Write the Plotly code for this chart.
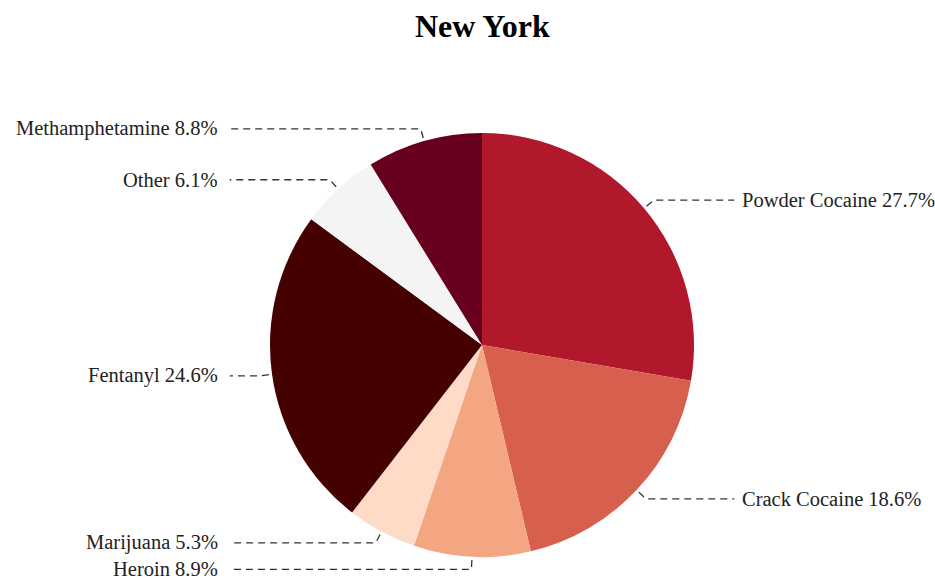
import math
import plotly.graph_objects as go

title = "New York"
categories = ["Powder Cocaine", "Crack Cocaine", "Heroin", "Marijuana",
              "Fentanyl", "Other", "Methamphetamine"]
values = [27.7, 18.6, 8.9, 5.3, 24.6, 6.1, 8.8]
colors = ["#b2182b", "#d6604d", "#f4a582", "#fddbc7",
          "#450000", "#f4f4f4", "#67001f"]

W, H = 935, 584
CX, CY, R = 482, 345, 212  # pie centre / radius in pixels


def px(x):
    return x / W


def py(y):
    return 1 - y / H


fig = go.Figure(go.Pie(
    labels=categories, values=values, sort=False, direction="clockwise",
    rotation=0, marker=dict(colors=colors, line=dict(width=0)),
    textinfo="none", hoverinfo="label+percent",
    domain=dict(x=[px(CX - R), px(CX + R)], y=[py(CY + R), py(CY - R)]),
    showlegend=False,
))

total = sum(values)
shapes, annotations = [], []
cum = 0.0
for name, v in zip(categories, values):
    mid = (cum + v / 2) / total * 2 * math.pi
    cum += v
    s, c = math.sin(mid), -math.cos(mid)
    x1, y1 = CX + 1.015 * R * s, CY + 1.015 * R * c
    x2, y2 = CX + 1.06 * R * s, CY + 1.06 * R * c
    right = s > 0
    x3 = CX + (1.19 if right else -1.19) * R
    xt = CX + (1.215 if right else -1.235) * R
    shapes.append(dict(
        type="path", xref="paper", yref="paper",
        path=f"M {px(x1)} {py(y1)} L {px(x2)} {py(y2)} L {px(x3)} {py(y2)}",
        line=dict(color="#333", width=1.3, dash="7px,5px"),
    ))
    annotations.append(dict(
        x=px(xt), y=py(y2), xref="paper", yref="paper",
        text=f"{name} {v}%", showarrow=False,
        xanchor="left" if right else "right", yanchor="middle",
        font=dict(family="Liberation Serif", size=20.5, color="#222"),
    ))

annotations.append(dict(
    x=px(CX), y=py(26), xref="paper", yref="paper", text=f"<b>{title}</b>",
    showarrow=False, xanchor="center", yanchor="middle",
    font=dict(family="Liberation Serif", size=32, color="#000"),
))

fig.update_layout(
    width=W, height=H, margin=dict(l=0, r=0, t=0, b=0),
    paper_bgcolor="white", plot_bgcolor="white",
    shapes=shapes, annotations=annotations,
)

fig.write_html(
    "out.html",
    config={"displayModeBar": False},
    post_script="document.body.style.margin='0px';"
                "document.body.style.overflow='hidden';",
)
